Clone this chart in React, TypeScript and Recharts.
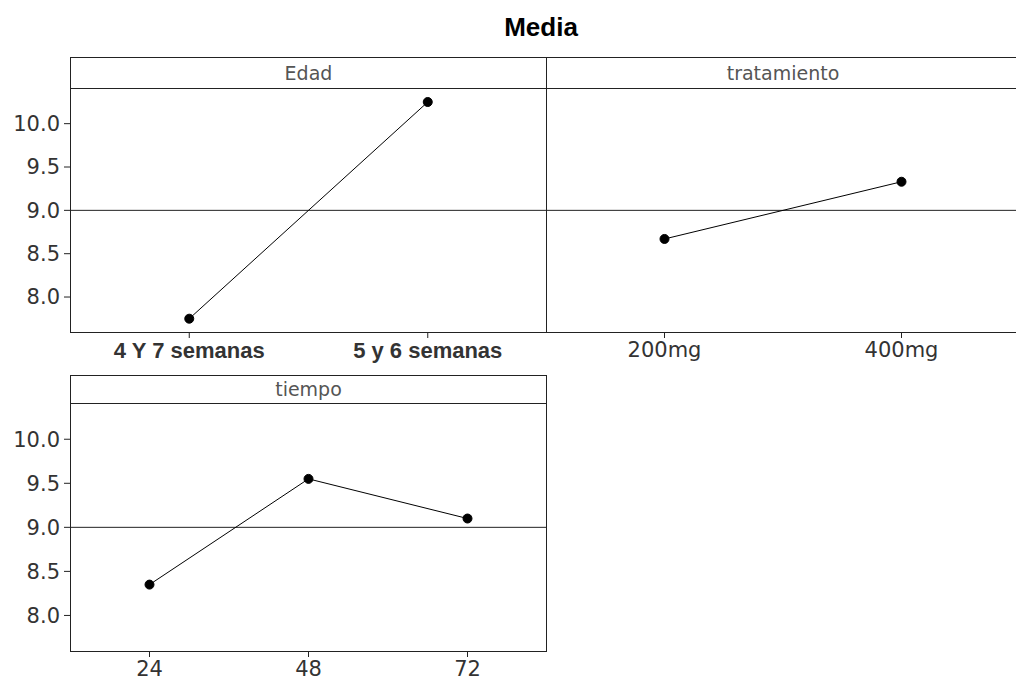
import React from "react";
import { LineChart, Line, XAxis, YAxis, ReferenceLine } from "recharts";

// grand mean of the response (horizontal reference in every panel)
const GRAND_MEAN = 9.0;
const Y_TICKS = [8.0, 8.5, 9.0, 9.5, 10.0];
const Y_DOMAIN: [number, number] = [7.585, 10.4];

const edadLevels = ["4 Y 7 semanas", "5 y 6 semanas"];
const edadMeans = [7.75, 10.25];

const tratamientoLevels = ["200mg", "400mg"];
const tratamientoMeans = [8.67, 9.33];

const tiempoLevels = ["24", "48", "72"];
const tiempoMeans = [8.35, 9.55, 9.1];

const FRAME = "#222";
const TEXT = "#333";

type PanelProps = {
  title: string;
  levels: string[];
  means: number[];
  left: number;
  top: number;
  width: number;
  stripH: number;
  plotH: number;
  showY: boolean;
  tick: Record<string, any>;
};

function Panel({ title, levels, means, left, top, width, stripH, plotH, showY, tick }: PanelProps) {
  const data = levels.map((level, i) => ({ level, mean: means[i] }));
  const yW = showY ? left : 0;

  return (
    <>
      <div
        style={{
          position: "absolute",
          left,
          top,
          width,
          height: stripH + plotH,
          border: `1px solid ${FRAME}`,
          boxSizing: "border-box",
        }}
      />
      <div
        style={{
          position: "absolute",
          left,
          top,
          width,
          height: stripH,
          borderBottom: `1px solid ${FRAME}`,
          boxSizing: "border-box",
          textAlign: "center",
          lineHeight: `${stripH}px`,
          fontFamily: "'DejaVu Sans', sans-serif",
          fontSize: 19,
          color: "#555",
        }}
      >
        {title}
      </div>
      <div style={{ position: "absolute", left: showY ? 0 : left, top: top + stripH }}>
        <LineChart
          width={yW + width}
          height={plotH + 40}
          data={data}
          margin={{ top: 0, right: 0, bottom: 0, left: 0 }}
        >
          <XAxis
            dataKey="level"
            scale="band"
            interval={0}
            height={40}
            axisLine={false}
            tickSize={5}
            tickMargin={4}
            tickLine={{ stroke: FRAME }}
            tick={tick}
          />
          <YAxis
            type="number"
            hide={!showY}
            width={yW}
            domain={Y_DOMAIN}
            ticks={Y_TICKS}
            allowDataOverflow
            tickFormatter={(v: number) => v.toFixed(1)}
            axisLine={false}
            tickSize={6}
            tickMargin={4}
            tickLine={{ stroke: FRAME }}
            tick={{ fill: TEXT, fontSize: 21, fontFamily: "'DejaVu Sans', sans-serif" }}
          />
          <ReferenceLine y={GRAND_MEAN} stroke={FRAME} strokeWidth={1} />
          <Line
            dataKey="mean"
            stroke="#000"
            strokeWidth={1}
            dot={{ r: 4.5, fill: "#000", stroke: "#000", strokeWidth: 1 }}
            isAnimationActive={false}
          />
        </LineChart>
      </div>
    </>
  );
}

const plainTick = { fill: TEXT, fontSize: 21, fontFamily: "'DejaVu Sans', sans-serif" };
const boldTick = { fill: TEXT, fontSize: 22, fontWeight: "bold", fontFamily: "'Liberation Sans', Arial, sans-serif" };

export default function App() {
  return (
    <div
      style={{
        position: "absolute",
        left: 0,
        top: 0,
        width: 1016,
        height: 687,
        overflow: "hidden",
        background: "#fff",
      }}
    >
      <div
        style={{
          position: "absolute",
          left: 441,
          top: 14,
          width: 200,
          textAlign: "center",
          fontFamily: "'Liberation Sans', Arial, sans-serif",
          fontWeight: "bold",
          fontSize: 26,
          lineHeight: "26px",
          color: "#000",
        }}
      >
        Media
      </div>
      <Panel
        title="Edad"
        levels={edadLevels}
        means={edadMeans}
        left={70}
        top={57}
        width={477}
        stripH={32}
        plotH={244}
        showY
        tick={boldTick}
      />
      <Panel
        title="tratamiento"
        levels={tratamientoLevels}
        means={tratamientoMeans}
        left={546}
        top={57}
        width={474}
        stripH={32}
        plotH={244}
        showY={false}
        tick={plainTick}
      />
      <Panel
        title="tiempo"
        levels={tiempoLevels}
        means={tiempoMeans}
        left={70}
        top={375}
        width={477}
        stripH={29}
        plotH={248}
        showY
        tick={plainTick}
      />
    </div>
  );
}
